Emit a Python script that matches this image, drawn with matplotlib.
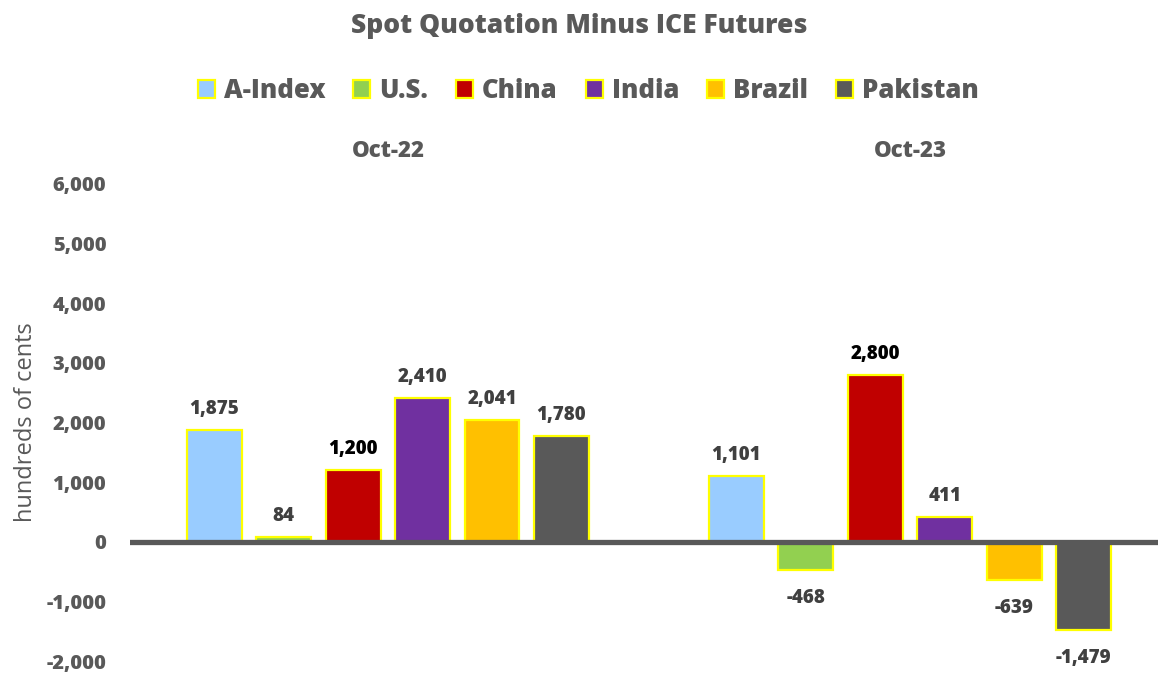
import matplotlib
matplotlib.use("Agg")
import matplotlib.pyplot as plt
from matplotlib.patches import Patch
import numpy as np

plt.rcParams['font.family'] = ['Open Sans', 'DejaVu Sans']

# data
periods = ["Oct-22", "Oct-23"]
series = ["A-Index", "U.S.", "China", "India", "Brazil", "Pakistan"]
oct22 = [1875, 84, 1200, 2410, 2041, 1780]
oct23 = [1101, -468, 2800, 411, -639, -1479]
colors = ["#99CCFF", "#92D050", "#C00000", "#7030A0", "#FFC000", "#595959"]
label_colors = ["#404040", "#404040", "#000000", "#404040", "#404040", "#404040"]

grey = "#595959"
W = 800
values = np.array([oct22, oct23])

fig = plt.figure(figsize=(11.58, 6.73), dpi=100)
ax = fig.add_axes([130 / 1158, 12 / 673, 1028 / 1158, 477 / 673])

x = np.arange(len(periods))
step = 0.133
width = 0.105
for i, name in enumerate(series):
    pos = x + (i - 2.5) * step
    vals = values[:, i]
    ax.bar(pos, vals, width, color=colors[i], edgecolor="#FFFF00",
           linewidth=1.6, zorder=2)
    for px, v in zip(pos, vals):
        off = 8 if v >= 0 else -13
        ax.annotate(f"{v:,}", (px, v), xytext=(0, off),
                    textcoords="offset points", ha="center",
                    va="bottom" if v >= 0 else "top",
                    fontsize=13.5, fontweight=W, color=label_colors[i])

ax.axhline(0, color=grey, linewidth=3.8, zorder=3)
ax.set_ylim(-2000, 6000)
ax.set_xlim(-0.494, 1.475)
ax.set_yticks(np.arange(-2000, 6001, 1000))
ax.set_yticklabels([f"{t:,}" for t in range(-2000, 6001, 1000)],
                   fontsize=14.5, fontweight=W, color=grey)
ax.tick_params(axis="y", length=0, pad=17)
ax.set_xticks([])
for s in ax.spines.values():
    s.set_visible(False)

for xi, p in zip(x, periods):
    ax.text(xi, 6560, p, ha="center", va="center", fontsize=16,
            fontweight=W, color=grey)

ax.set_ylabel("hundreds of cents", fontsize=17, color=grey, labelpad=6)

fig.text(0.5, 1 - 26 / 673, "Spot Quotation Minus ICE Futures",
         ha="center", va="center", fontsize=19, fontweight=W, color=grey)

handles = [Patch(facecolor=c, edgecolor="#FFFF00", linewidth=1.6) for c in colors]
leg = fig.legend(handles, series, loc="center", bbox_to_anchor=(0.508, 1 - 91 / 673),
                 ncol=6, frameon=False, handlelength=0.65,
                 handleheight=0.7, handletextpad=0.35, columnspacing=1.1,
                 prop={"weight": W, "size": 18.5})
for t in leg.get_texts():
    t.set_color(grey)

fig.savefig("out.png", dpi=100)
